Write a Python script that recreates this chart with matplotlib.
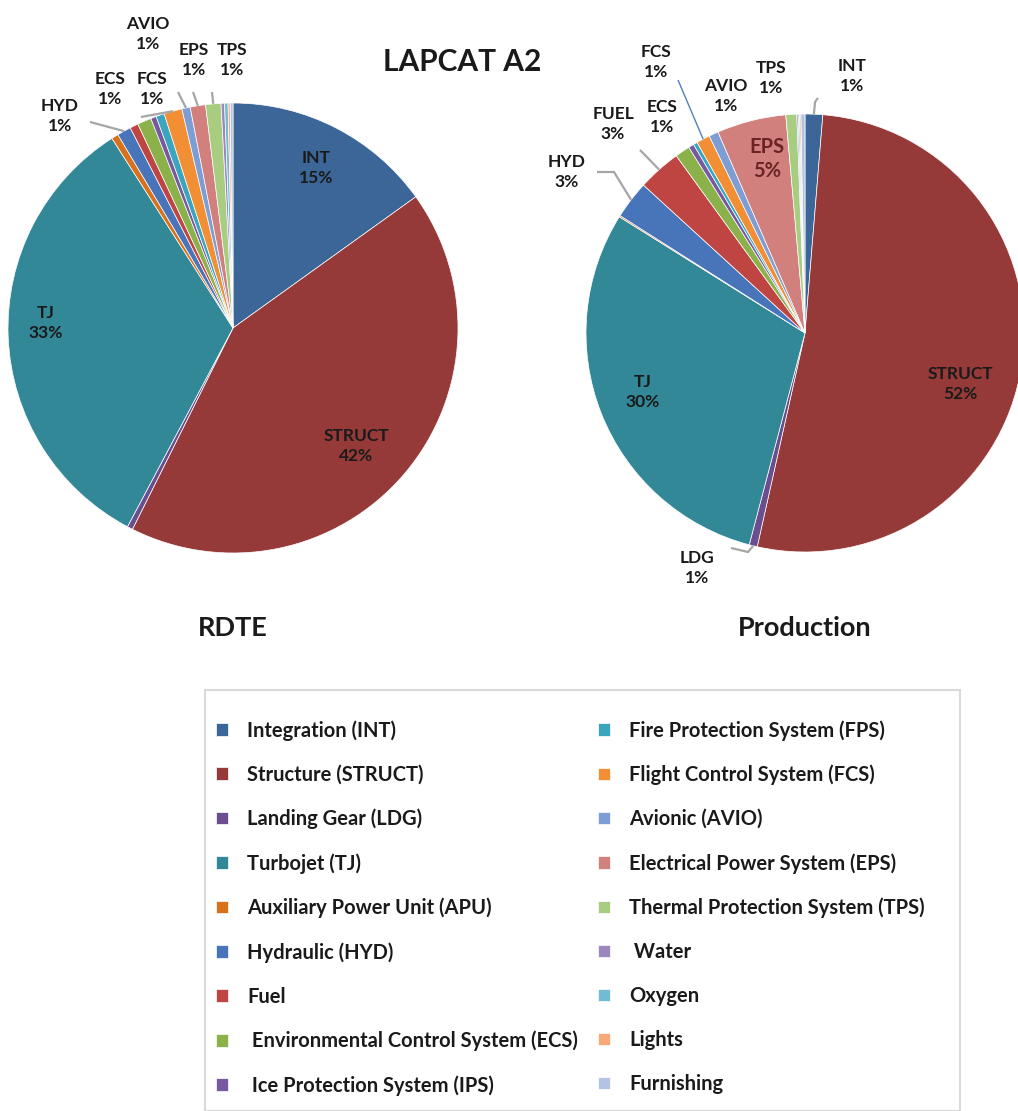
import numpy as np
import matplotlib.pyplot as plt
from matplotlib.patches import Rectangle

# cost breakdown by subsystem, order matches the legend
names = ["INT", "STRUCT", "LDG", "TJ", "APU", "HYD", "FUEL", "ECS", "IPS",
         "FPS", "FCS", "AVIO", "EPS", "TPS", "Water", "Oxygen", "Lights", "Furnishing"]
legend_labels = ["Integration (INT)", "Structure (STRUCT)", "Landing Gear (LDG)",
                 "Turbojet (TJ)", "Auxiliary Power Unit (APU)", "Hydraulic (HYD)",
                 "Fuel", " Environmental Control System (ECS)", " Ice Protection System (IPS)",
                 "Fire Protection System (FPS)", "Flight Control System (FCS)",
                 "Avionic (AVIO)", "Electrical Power System (EPS)",
                 "Thermal Protection System (TPS)", " Water", "Oxygen", "Lights", "Furnishing"]
rdte = [15.1, 42.3, 0.4, 33.2, 0.5, 1.0, 0.6, 1.0, 0.4,
        0.6, 1.3, 0.6, 1.1, 1.1, 0.25, 0.25, 0.15, 0.2]
production = [1.3, 52.2, 0.6, 29.8, 0.1, 2.8, 3.2, 1.1, 0.4,
              0.3, 1.0, 0.7, 5.1, 0.8, 0.1, 0.1, 0.1, 0.3]
colors = ["#3d6698", "#953a38", "#6b4e8f", "#338897", "#d8711c", "#4874ba",
          "#bf4543", "#8ab14a", "#7759a0", "#3ca5be", "#f28e33", "#7d9ed5",
          "#d1807e", "#a8cd80", "#9b86be", "#71bcd3", "#f8a876", "#b3c3e3"]

# which slices get a label, and where the label sits (pixels)
rdte_labels = {"INT": (316, 168), "STRUCT": (356, 446), "TJ": (46, 323),
               "HYD": (60, 116), "ECS": (110, 89), "FCS": (152, 89),
               "AVIO": (148, 34), "EPS": (194, 60), "TPS": (232, 60)}
rdte_leaders = {"HYD": [(90, 122)], "FCS": [(141, 117)], "AVIO": [(178, 92)],
                "EPS": [(193, 92)], "TPS": [(212, 92)]}
prod_labels = {"INT": (852, 76), "STRUCT": (960, 384), "TJ": (643, 392),
               "LDG": (697, 568), "HYD": (567, 172), "FUEL": (613, 124),
               "ECS": (662, 117), "FCS": (656, 62), "AVIO": (726, 96),
               "EPS": (767, 159), "TPS": (771, 78)}
prod_leaders = {"INT": [(818, 98), (815, 102)], "LDG": [(731, 548), (748, 552)],
                "HYD": [(597, 172), (614, 172)], "FUEL": [(640, 150)],
                "FCS": [(678, 80)]}

W, H = 1018, 1111
plt.rcParams["font.family"] = ["Lato", "DejaVu Sans"]
fig = plt.figure(figsize=(W / 100, H / 100), dpi=100)


def draw_pie(values, cx, cy, r, labels, leaders, title):
    ax = fig.add_axes([(cx - r) / W, (H - cy - r) / H, 2 * r / W, 2 * r / H])
    wedges, _ = ax.pie(values, colors=colors, startangle=90, counterclock=False,
                       wedgeprops=dict(edgecolor="white", linewidth=0.5))
    ax.set_xlim(-1, 1)
    ax.set_ylim(-1, 1)
    ax.set_aspect("equal")
    ax.axis("off")
    total = sum(values)

    def to_data(p):
        return (p[0] - cx) / r, (cy - p[1]) / r

    for name, pos in labels.items():
        i = names.index(name)
        pct = round(100 * values[i] / total)
        x, y = to_data(pos)
        inside = name == "EPS" and values[i] / total > 0.03
        ax.text(x, y, f"{name}\n{pct}%", ha="center", va="center",
                fontsize=14.5 if inside else 12.5, fontweight="bold",
                color="#6a2424" if inside else "#1a1a1a", linespacing=1.3)

    for name, pts in leaders.items():
        w = wedges[names.index(name)]
        mid = np.deg2rad((w.theta1 + w.theta2) / 2)
        xs = [to_data(p)[0] for p in pts] + [np.cos(mid)]
        ys = [to_data(p)[1] for p in pts] + [np.sin(mid)]
        blue = name == "FCS" and title == "Production"
        ax.plot(xs, ys, color="#4f81bd" if blue else "#a6a6a6",
                lw=1.0 if blue else 1.6, solid_capstyle="butt", clip_on=False)

    fig.text(cx / W, 1 - 628 / H, title, ha="center", va="center",
             fontsize=19.5, fontweight="bold", color="#1a1a1a")
    return wedges


wedges = draw_pie(rdte, 233, 328, 225, rdte_labels, rdte_leaders, "RDTE")
draw_pie(production, 805, 333, 219, prod_labels, prod_leaders, "Production")

fig.text(462 / W, 1 - 62 / H, "LAPCAT A2", ha="center", va="center",
         fontsize=21.5, fontweight="bold", color="#1a1a1a")

# legend frame and entries
fig.patches.append(Rectangle((205 / W, 0), 755 / W, 1 - 690 / H, transform=fig.transFigure,
                             fill=False, edgecolor="#d9d9d9", linewidth=1.5))
fig.legend(wedges, legend_labels, ncol=2, loc="upper left",
           bbox_to_anchor=(216 / W, 1 - 720 / H), frameon=False, borderpad=0,
           borderaxespad=0, prop=dict(size=14.5, weight="bold"),
           handlelength=0.6, handleheight=0.6, handletextpad=0.95,
           labelspacing=1.19, columnspacing=1.0, labelcolor="#1a1a1a")

fig.savefig("out.png", dpi=100)
